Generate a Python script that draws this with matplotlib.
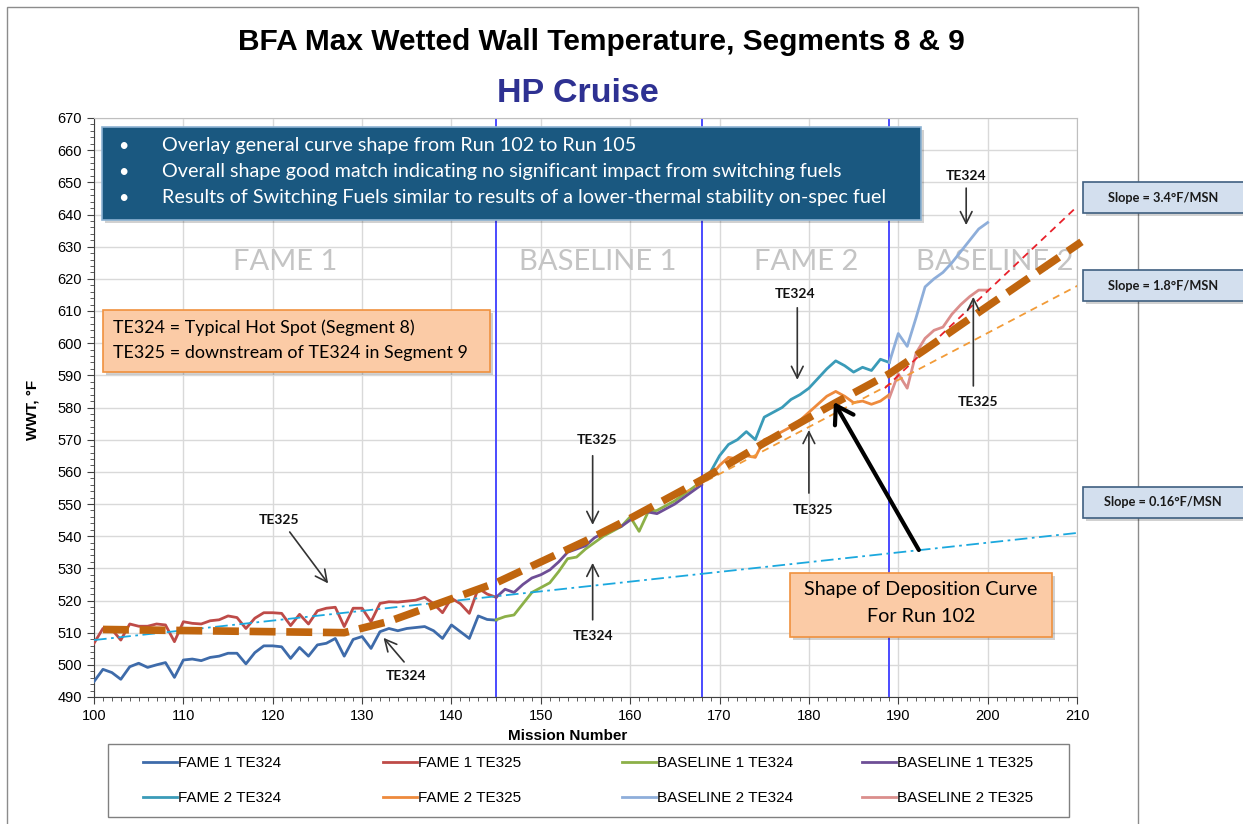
import matplotlib
matplotlib.use("Agg")
import matplotlib.pyplot as plt
from matplotlib.patches import Rectangle
from matplotlib.ticker import MultipleLocator

W, H = 1243, 824
ARIAL = "Liberation Sans"
CALIBRI = "Lato"

# measured data (mission number -> wetted wall temperature, F)
fame1_x = list(range(100, 146))
fame1_te324 = [494.8, 498.6, 497.6, 495.5, 499.4, 500.5, 499.2, 500.0, 500.7, 496.1,
               501.5, 501.8, 501.3, 502.3, 502.7, 503.6, 503.6, 500.3, 503.8, 505.9,
               505.9, 505.6, 502.0, 505.4, 502.7, 506.2, 506.7, 508.2, 502.7, 507.9,
               508.8, 505.1, 510.3, 511.3, 510.6, 511.3, 511.6, 511.9, 510.6, 508.2,
               512.4, 510.3, 508.2, 515.2, 514.1, 513.9]
fame1_te325 = [506.7, 511.3, 511.0, 507.7, 512.7, 512.0, 512.0, 512.7, 512.4, 507.2,
               513.4, 512.9, 512.7, 513.7, 514.0, 515.2, 514.7, 511.3, 514.5, 516.2,
               516.2, 516.0, 512.2, 515.7, 512.7, 516.8, 517.6, 517.9, 511.9, 517.6,
               517.6, 513.4, 519.1, 519.6, 519.5, 519.8, 520.1, 521.0, 519.0, 516.2,
               520.7, 519.0, 516.0, 523.8, 522.0, 521.0]
base1_x = list(range(145, 169))
base1_te324 = [514, 515, 515.5, 519, 522.5, 524, 525.5, 529, 533, 533.5, 536, 538,
               540, 541.5, 543, 546, 541.5, 547.5, 548, 549.5, 551, 553, 555, 557]
base1_te325 = [521, 523.5, 522.5, 525, 527, 528, 529.5, 532, 535, 536, 537, 539.5,
               541, 542, 543, 545, 547, 547.5, 547, 548.5, 550, 552, 554, 556]
fame2_x = list(range(168, 190))
fame2_te324 = [557, 560, 565, 568.5, 570, 572.5, 570, 577, 578.5, 580, 582.5, 584,
               586, 589, 592, 594.5, 593, 591, 592.5, 591.5, 595, 594]
fame2_te325 = [557, 558.5, 562, 564.5, 564, 565, 564.5, 570, 571, 572.5, 574, 576,
               578.5, 581, 583.5, 585, 583.5, 581.5, 582, 581, 582, 584]
base2_x = list(range(189, 201))
base2_te324 = [594, 603, 599, 608, 617.5, 620, 622, 625, 628.5, 632, 635.5, 637.5]
base2_te325 = [583, 590.5, 586, 597, 601.5, 604, 605, 609, 612, 614.5, 616.5, 616.5]

# overlay curves
run102_x = [101, 128, 133, 140, 145, 150, 155, 160, 168, 175, 183, 189, 193, 200, 210.5]
run102_y = [511, 510, 513.5, 520.5, 525.5, 532, 538.5, 545.5, 557.5, 569, 581.5, 590.5, 598, 611.5, 631.5]
slope34_x, slope34_y = [188.5, 210.4], [586, 643.5]
slope18_x, slope18_y = [166, 210.5], [553.5, 618.5]
slope016_x, slope016_y = [100, 210], [507.7, 541]

phase_breaks = [145, 168, 189]
phase_names = ["FAME 1", "BASELINE 1", "FAME 2", "BASELINE 2"]
phase_label_x = [121.4, 156.4, 179.7, 200.8]

series = [
    ("FAME 1 TE324", fame1_x, fame1_te324, "#3E6BAA"),
    ("FAME 1 TE325", fame1_x, fame1_te325, "#BE4B48"),
    ("BASELINE 1 TE324", base1_x, base1_te324, "#8CB048"),
    ("BASELINE 1 TE325", base1_x, base1_te325, "#6E4E96"),
    ("FAME 2 TE324", fame2_x, fame2_te324, "#3A9BB8"),
    ("FAME 2 TE325", fame2_x, fame2_te325, "#EE8A3C"),
    ("BASELINE 2 TE324", base2_x, base2_te324, "#8EAEDA"),
    ("BASELINE 2 TE325", base2_x, base2_te325, "#DB8E8C"),
]

# (label, label x, label y, arrow tail, arrow head)
callouts = [
    ("TE325", 120.7, 545.0, (121.9, 541.3), (126.2, 525.3)),
    ("TE324", 134.9, 496.5, (134.7, 500.9), (132.4, 508.4)),
    ("TE325", 156.3, 569.9, (155.8, 565.0), (155.8, 543.5)),
    ("TE324", 155.8, 509.0, (155.8, 514.0), (155.8, 531.7)),
    ("TE324", 178.4, 615.3, (178.7, 611.0), (178.7, 588.6)),
    ("TE325", 180.5, 548.0, (180.0, 553.4), (180.0, 573.0)),
    ("TE324", 197.6, 652.0, (197.6, 648.2), (197.6, 636.7)),
    ("TE325", 198.9, 581.7, (198.4, 586.7), (198.4, 614.4)),
]


def fx(px):
    return px / W


def fy(py):
    return 1 - py / H


fig = plt.figure(figsize=(W / 100, H / 100), dpi=100)
ax = fig.add_axes([fx(94), fy(697), (1077 - 94) / W, (697 - 118) / H])

ax.set_xlim(100, 210)
ax.set_ylim(490, 670)
ax.xaxis.set_major_locator(MultipleLocator(10))
ax.xaxis.set_minor_locator(MultipleLocator(1))
ax.yaxis.set_major_locator(MultipleLocator(10))
ax.yaxis.set_minor_locator(MultipleLocator(2))
ax.grid(True, which="major", color="#D9D9D9", lw=1.0, zorder=0)
ax.set_axisbelow(True)
ax.tick_params(which="major", direction="out", length=5, color="#404040", labelsize=10.5)
ax.tick_params(which="minor", direction="out", length=3, color="#404040")
for lab in ax.get_xticklabels() + ax.get_yticklabels():
    lab.set_fontfamily(ARIAL)
for side in ["left", "bottom"]:
    ax.spines[side].set_color("#404040")
for side in ["top", "right"]:
    ax.spines[side].set_color("#BFBFBF")

ax.set_xlabel("Mission Number", fontfamily=ARIAL, fontweight="bold", fontsize=11)
ax.xaxis.set_label_coords((568 - 94) / 983, -0.055)
ax.set_ylabel("WWT, °F", fontfamily=ARIAL, fontweight="bold", fontsize=11)
ax.yaxis.set_label_coords(-0.055, 0.496)

for name, x in zip(phase_names, phase_label_x):
    ax.text(x, 625.2, name, ha="center", va="center", fontsize=21,
            fontfamily=CALIBRI, color="#C4C4C4", zorder=1)

for b in phase_breaks:
    ax.axvline(b, color="#4B4BFF", lw=1.4, zorder=2)

handles = {}
for name, xs, ys, col in series:
    handles[name], = ax.plot(xs, ys, color=col, lw=2.0, zorder=3, label=name)

ax.plot(slope016_x, slope016_y, color="#1BA8DE", lw=1.3, dashes=(7, 2.5, 1.5, 2.5), zorder=4)
ax.plot(slope18_x, slope18_y, color="#F29B38", lw=1.3, dashes=(4, 3), zorder=4)
ax.plot(slope34_x, slope34_y, color="#E8202A", lw=1.3, dashes=(4, 3), zorder=4)
ax.plot(run102_x, run102_y, color="#C0650E", lw=5.5, dashes=(3.4, 1.4), zorder=5,
        clip_on=False)

for label, lx, ly, tail, head in callouts:
    ax.text(lx, ly, label, ha="center", va="center", fontsize=10,
            fontfamily=CALIBRI, fontweight="bold", color="#111111", zorder=6)
    ax.annotate("", xy=head, xytext=tail,
                arrowprops=dict(arrowstyle="->,head_length=0.6,head_width=0.3",
                                lw=1.2, color="#333333", mutation_scale=14,
                                shrinkA=0, shrinkB=0), zorder=6)

ax.annotate("", xy=(182.8, 581.7), xytext=(192.3, 535.7),
            arrowprops=dict(arrowstyle="->,head_length=0.55,head_width=0.35",
                            lw=3, color="black", mutation_scale=22,
                            shrinkA=0, shrinkB=0), zorder=7)

# legend: frame plus four columns of two entries
fig.add_artist(Rectangle((fx(108), fy(817)), (1069 - 108) / W, (817 - 744) / H,
                         fill=False, edgecolor="#808080", lw=1.0,
                         transform=fig.transFigure, zorder=1))
legend_cols = [["FAME 1 TE324", "FAME 2 TE324"], ["FAME 1 TE325", "FAME 2 TE325"],
               ["BASELINE 1 TE324", "BASELINE 2 TE324"], ["BASELINE 1 TE325", "BASELINE 2 TE325"]]
legend_col_px = [143, 383, 622, 862]
for names, px in zip(legend_cols, legend_col_px):
    fig.legend([handles[k] for k in names], names, loc="upper left",
               bbox_to_anchor=(fx(px), fy(756)), frameon=False,
               prop={"family": ARIAL, "size": 11}, handlelength=2.2,
               handletextpad=0.1, borderpad=0, borderaxespad=0, labelspacing=1.38)

# outer frame
fig.add_artist(Rectangle((fx(7), fy(840)), (1138 - 7) / W, (840 - 7) / H,
                         fill=False, edgecolor="#8C8C8C", lw=1.0,
                         transform=fig.transFigure, zorder=0))

fig.text(0.5 * (237 + 965) / W, fy(42), "BFA Max Wetted Wall Temperature, Segments 8 & 9",
         ha="center", va="center", fontsize=21.5, fontweight="bold", fontfamily=ARIAL)
fig.text(fx(578), fy(93), "HP Cruise", ha="center", va="center", fontsize=24.5,
         fontweight="bold", fontfamily=ARIAL, color="#2E3192")


def box(x0, y0, x1, y1, face, edge, lw=1.2, shadow=True, z=8):
    if shadow:
        fig.add_artist(Rectangle((fx(x0 + 3), fy(y1 + 3)), (x1 - x0) / W, (y1 - y0) / H,
                                 facecolor="#000000", alpha=0.18, edgecolor="none",
                                 transform=fig.transFigure, zorder=z - 0.5))
    fig.add_artist(Rectangle((fx(x0), fy(y1)), (x1 - x0) / W, (y1 - y0) / H,
                             facecolor=face, edgecolor=edge, lw=lw,
                             transform=fig.transFigure, zorder=z))


# bullet box
bullets = ["Overlay general curve shape from Run 102 to Run 105",
           "Overall shape good match indicating no significant impact from switching fuels",
           "Results of Switching Fuels similar to results of a lower-thermal stability on-spec fuel"]
box(102, 127, 921, 220, "#1A5880", "#8DB3D3")
for i, t in enumerate(bullets):
    yy = fy(146 + 26 * i)
    fig.text(fx(118), yy, "•", ha="left", va="center", color="white", fontsize=13,
             fontfamily=CALIBRI, zorder=9)
    fig.text(fx(162), yy, t, ha="left", va="center", color="white", fontsize=14.2,
             fontfamily=CALIBRI, zorder=9)

# sensor note
box(103, 310, 490, 372, "#FBCBA6", "#F0913E")
fig.text(fx(113), fy(328), "TE324 = Typical Hot Spot (Segment 8)", ha="left", va="center",
         fontsize=12.9, fontfamily=CALIBRI, zorder=9)
fig.text(fx(113), fy(353), "TE325 = downstream of TE324 in Segment 9", ha="left",
         va="center", fontsize=12.9, fontfamily=CALIBRI, zorder=9)

# deposition curve note
box(790, 573, 1052, 637, "#FBCBA6", "#F0913E")
fig.text(fx(921), fy(590), "Shape of Deposition Curve", ha="center", va="center",
         fontsize=14.2, fontfamily=CALIBRI, zorder=9)
fig.text(fx(921), fy(617), "For Run 102", ha="center", va="center",
         fontsize=14.2, fontfamily=CALIBRI, zorder=9)

# slope boxes
slope_labels = ["Slope = 3.4°F/MSN", "Slope = 1.8°F/MSN", "Slope = 0.16°F/MSN"]
slope_box_top = [182, 270, 487]
for lab, top in zip(slope_labels, slope_box_top):
    box(1083, top, 1250, top + 31, "#D3DFEE", "#3F5F80", lw=1.2)
    fig.text(fx(1163), fy(top + 15.5), lab, ha="center", va="center", fontsize=9.2,
             fontweight="bold", fontfamily=CALIBRI, color="#1A1A1A", zorder=9)

fig.savefig("out.png", dpi=100)
